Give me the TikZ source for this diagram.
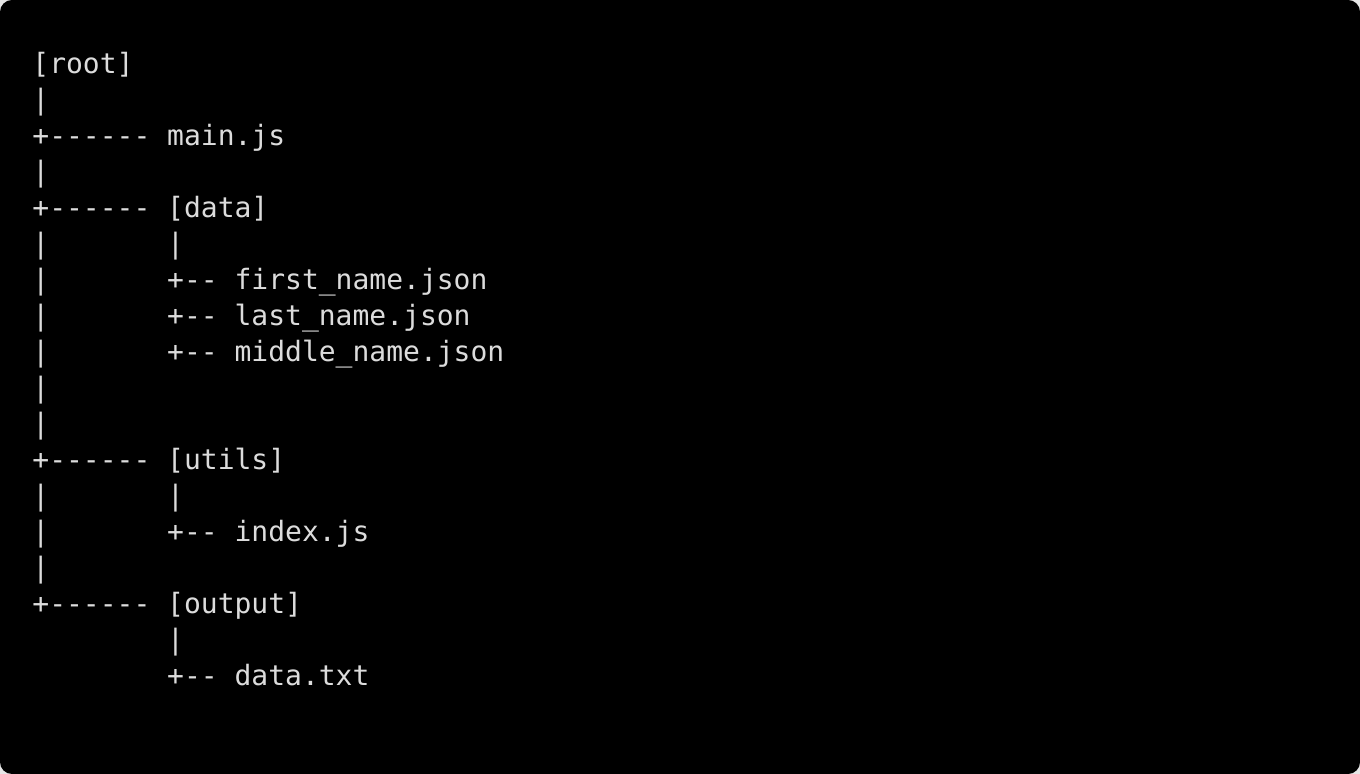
\documentclass[tikz,border=0pt]{standalone}
\usepackage{fontspec}
\setmonofont{DejaVu Sans Mono}
\usepackage{tikz}
\usetikzlibrary{positioning}
\definecolor{termbg}{HTML}{000000}
\definecolor{termfg}{HTML}{DCDCDC}
\definecolor{pagebg}{HTML}{E6E6E6}
\begin{document}
\begin{tikzpicture}[
    x=0.5pt, y=-0.5pt,
    tt/.style={anchor=mid west, inner sep=0pt, text=termfg, font=\ttfamily\fontsize{14}{17}\selectfont},
]
    % page and terminal window
    \fill[pagebg] (0,0) rectangle (1360,774);
    \fill[termbg, rounded corners=6pt] (0,0) rectangle (1360,774);
    \useasboundingbox (0,0) rectangle (1360,774);

    % root and main.js
    \node[tt] (root) at (32,69) {[root]};
    \node[tt] (bar1) at (32,105) {|};
    \node[tt] (brmain) at (32,141) {+------}; \node[tt] (mainjs) at (166.8,141) {main.js};
    \node[tt] (bar2) at (32,177) {|};

    % data folder
    \node[tt] (brdata) at (32,213) {+------}; \node[tt] (data) at (166.8,213) {[data]};
    \node[tt] (bar3) at (32,249) {|}; \node[tt] (dbar) at (166.8,249) {|};
    \node[tt] (bar4) at (32,285) {|}; \node[tt] (brfirst) at (166.8,285) {+--}; \node[tt] (first) at (234.2,285) {first\_name.json};
    \node[tt] (bar5) at (32,321) {|}; \node[tt] (brlast) at (166.8,321) {+--}; \node[tt] (last) at (234.2,321) {last\_name.json};
    \node[tt] (bar6) at (32,357) {|}; \node[tt] (brmiddle) at (166.8,357) {+--}; \node[tt] (middle) at (234.2,357) {middle\_name.json};
    \node[tt] (bar7) at (32,393) {|};
    \node[tt] (bar8) at (32,429) {|};

    % utils folder
    \node[tt] (brutils) at (32,465) {+------}; \node[tt] (utils) at (166.8,465) {[utils]};
    \node[tt] (bar9) at (32,501) {|}; \node[tt] (ubar) at (166.8,501) {|};
    \node[tt] (bar10) at (32,537) {|}; \node[tt] (brindex) at (166.8,537) {+--}; \node[tt] (index) at (234.2,537) {index.js};
    \node[tt] (bar11) at (32,573) {|};

    % output folder
    \node[tt] (broutput) at (32,609) {+------}; \node[tt] (output) at (166.8,609) {[output]};
    \node[tt] (obar) at (166.8,645) {|};
    \node[tt] (brtxt) at (166.8,681) {+--}; \node[tt] (datatxt) at (234.2,681) {data.txt};
\end{tikzpicture}
\end{document}
